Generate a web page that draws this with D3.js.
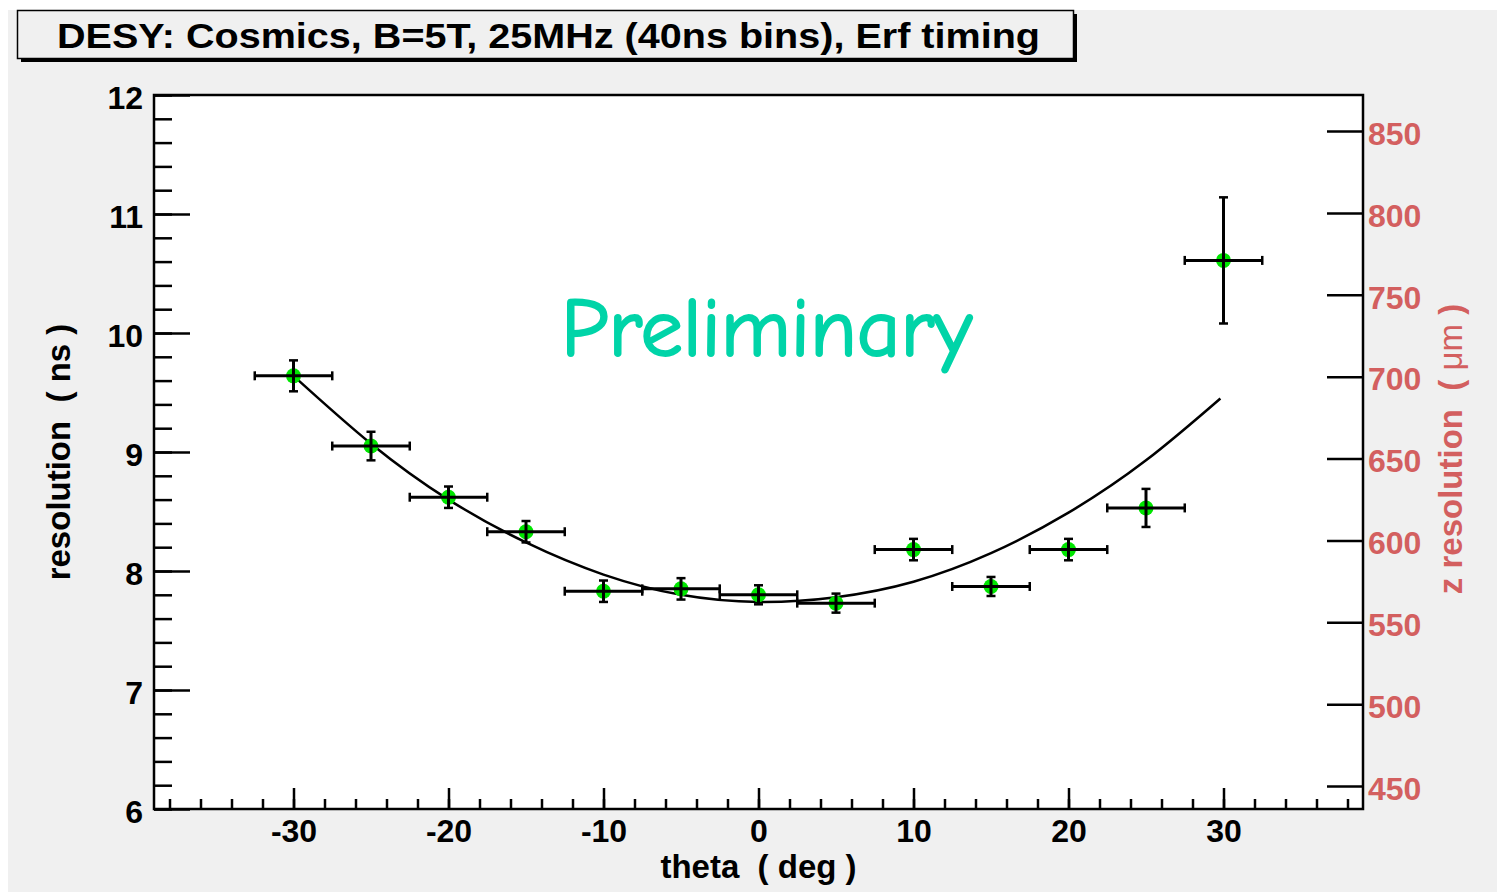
<!DOCTYPE html>
<html>
<head>
<meta charset="utf-8">
<script src="https://cdn.jsdelivr.net/npm/d3@7"></script>
<style>
  body { margin: 0; background: #ffffff; }
  svg { display: block; font-family: "Liberation Sans", Arial, Helvetica, sans-serif; }
  .axis path, .axis line { stroke: #000; }
</style>
</head>
<body>
<svg id="chart"></svg>
<script>
// measured points (theta in deg, resolution in ns)
const thetaVals = [-30, -25, -20, -15, -10, -5, 0, 5, 10, 15, 20, 25, 30];
const resVals = [9.64, 9.05, 8.62, 8.33, 7.83, 7.85, 7.80, 7.73, 8.18, 7.87, 8.18, 8.53, 10.61];
const resErrs = [0.13, 0.12, 0.09, 0.09, 0.09, 0.09, 0.08, 0.08, 0.09, 0.08, 0.09, 0.16, 0.53];
const thetaErrs = [2.5, 2.5, 2.5, 2.5, 2.5, 2.5, 2.5, 2.5, 2.5, 2.5, 2.5, 2.5, 2.5];

// fit curve
const fitTheta = [-30, -25, -20, -15, -10, -5, 0, 5, 10, 15, 20, 25, 29.8];
const fitRes = [9.64, 9.07, 8.60, 8.24, 7.97, 7.80, 7.74, 7.78, 7.91, 8.15, 8.49, 8.93, 9.45];

// tick labels
const xTicks = [-30, -20, -10, 0, 10, 20, 30];
const yTicks = [6, 7, 8, 9, 10, 11, 12];
const zTicks = [450, 500, 550, 600, 650, 700, 750, 800, 850];

const titleText = "DESY: Cosmics, B=5T, 25MHz (40ns bins), Erf timing";

const W = 1497, H = 892;
const frame = {left: 154, right: 1363, top: 95, bottom: 809};
const zRed = "#d35f5f";
const labelSize = "32px";

const svg = d3.select("#chart")
    .attr("width", W)
    .attr("height", H);

// canvas background
svg.append("rect")
    .attr("x", 8).attr("y", 10)
    .attr("width", W - 8).attr("height", H - 10)
    .attr("fill", "#f0f0f0");

// plot pad
svg.append("rect")
    .attr("x", frame.left).attr("y", frame.top)
    .attr("width", frame.right - frame.left)
    .attr("height", frame.bottom - frame.top)
    .attr("fill", "#ffffff");

const xScale = d3.scaleLinear().domain([-39, 39]).range([frame.left, frame.right]);
const yScale = d3.scaleLinear().domain([6, 12]).range([frame.bottom, frame.top]);
const zScale = d3.scaleLinear().domain([436, 872]).range([frame.bottom, frame.top]);

// plain hyphen minus like the original
const plainFmt = d => String(d);

// minor ticks first, then majors
svg.append("g")
    .attr("class", "axis")
    .attr("transform", `translate(${frame.left},0)`)
    .call(d3.axisLeft(yScale).tickValues(d3.range(6, 12.01, 0.2)).tickSize(-18).tickFormat(""))
    .call(g => g.select(".domain").remove())
    .selectAll("line").attr("stroke-width", 2.5);

svg.append("g")
    .attr("class", "axis")
    .attr("transform", `translate(0,${frame.bottom})`)
    .call(d3.axisBottom(xScale).tickValues(d3.range(-38, 39, 2)).tickSize(-10).tickFormat(""))
    .call(g => g.select(".domain").remove())
    .selectAll("line").attr("stroke-width", 2.5);

const yAxisG = svg.append("g")
    .attr("class", "axis")
    .attr("transform", `translate(${frame.left},0)`)
    .call(d3.axisLeft(yScale).tickValues(yTicks).tickSize(-36).tickPadding(11).tickSizeOuter(0).tickFormat(plainFmt));
yAxisG.select(".domain").remove();
yAxisG.selectAll("line").attr("stroke-width", 2.5);
yAxisG.selectAll("text")
    .attr("fill", "#000")
    .attr("y", 3)
    .style("font-size", labelSize)
    .style("font-weight", "bold");

const xAxisG = svg.append("g")
    .attr("class", "axis")
    .attr("transform", `translate(0,${frame.bottom})`)
    .call(d3.axisBottom(xScale).tickValues(xTicks).tickSize(-21).tickPadding(10).tickSizeOuter(0).tickFormat(plainFmt));
xAxisG.select(".domain").remove();
xAxisG.selectAll("line").attr("stroke-width", 2.5);
xAxisG.selectAll("text")
    .attr("fill", "#000")
    .style("font-size", labelSize)
    .style("font-weight", "bold");

const zAxisG = svg.append("g")
    .attr("class", "axis")
    .attr("transform", `translate(${frame.right},0)`)
    .call(d3.axisRight(zScale).tickValues(zTicks).tickSize(-36).tickPadding(5).tickSizeOuter(0).tickFormat(plainFmt));
zAxisG.select(".domain").remove();
zAxisG.selectAll("line").attr("stroke-width", 2.5);
zAxisG.selectAll("text")
    .attr("fill", zRed)
    .attr("y", 3)
    .style("font-size", labelSize)
    .style("font-weight", "bold");

// frame
svg.append("rect")
    .attr("x", frame.left).attr("y", frame.top)
    .attr("width", frame.right - frame.left)
    .attr("height", frame.bottom - frame.top)
    .attr("fill", "none")
    .attr("stroke", "#000")
    .attr("stroke-width", 2.5);

// axis titles
svg.append("text")
    .attr("x", (frame.left + frame.right) / 2)
    .attr("y", 878)
    .attr("text-anchor", "middle")
    .style("font-size", "33px")
    .style("font-weight", "bold")
    .attr("xml:space", "preserve")
    .text("theta  ( deg )");

svg.append("text")
    .attr("transform", `translate(70,${(frame.top + frame.bottom) / 2}) rotate(-90)`)
    .attr("text-anchor", "middle")
    .style("font-size", "33px")
    .style("font-weight", "bold")
    .attr("xml:space", "preserve")
    .text("resolution  ( ns )");

const zTitle = svg.append("text")
    .attr("transform", `translate(1462,${(frame.top + frame.bottom) / 2 - 3}) rotate(-90)`)
    .attr("text-anchor", "middle")
    .attr("fill", zRed)
    .style("font-size", "33px")
    .style("font-weight", "bold")
    .attr("xml:space", "preserve");
zTitle.append("tspan").text("z resolution  ( ");
zTitle.append("tspan").style("font-weight", "normal").text("μm");
zTitle.append("tspan").text(" )");

// Preliminary stamp
svg.append("text")
    .attr("x", 561)
    .attr("y", 356)
    .attr("fill", "#00d4a8")
    .attr("stroke", "#00d4a8")
    .attr("stroke-width", 2)
    .attr("stroke-linejoin", "round")
    .attr("textLength", 411)
    .attr("lengthAdjust", "spacingAndGlyphs")
    .style("font-family", "'Comic Sans MS', 'Comic Neue', cursive")
    .style("font-size", "82px")
    .text("Preliminary");

// fit curve
const fitLine = d3.line()
    .x((d, i) => xScale(fitTheta[i]))
    .y(d => yScale(d))
    .curve(d3.curveNatural);

svg.append("path")
    .attr("d", fitLine(fitRes))
    .attr("fill", "none")
    .attr("stroke", "#000")
    .attr("stroke-width", 2.5);

// points with error bars
const pts = thetaVals.map((t, i) => ({t: t, r: resVals[i], er: resErrs[i], et: thetaErrs[i]}));

const markers = svg.append("g").selectAll("g")
    .data(pts)
    .join("g");

markers.append("circle")
    .attr("cx", d => xScale(d.t))
    .attr("cy", d => yScale(d.r))
    .attr("r", 7.5)
    .attr("fill", "#00e600");

markers.append("line")
    .attr("x1", d => xScale(d.t - d.et)).attr("x2", d => xScale(d.t + d.et))
    .attr("y1", d => yScale(d.r)).attr("y2", d => yScale(d.r))
    .attr("stroke", "#000").attr("stroke-width", 3);

markers.append("line")
    .attr("x1", d => xScale(d.t)).attr("x2", d => xScale(d.t))
    .attr("y1", d => yScale(d.r - d.er)).attr("y2", d => yScale(d.r + d.er))
    .attr("stroke", "#000").attr("stroke-width", 3);

// end caps
markers.each(function(d) {
    const g = d3.select(this);
    [d.t - d.et, d.t + d.et].forEach(v => {
        g.append("line")
            .attr("x1", xScale(v)).attr("x2", xScale(v))
            .attr("y1", yScale(d.r) - 4.5).attr("y2", yScale(d.r) + 4.5)
            .attr("stroke", "#000").attr("stroke-width", 2.5);
    });
    [d.r - d.er, d.r + d.er].forEach(v => {
        g.append("line")
            .attr("x1", xScale(d.t) - 4.5).attr("x2", xScale(d.t) + 4.5)
            .attr("y1", yScale(v)).attr("y2", yScale(v))
            .attr("stroke", "#000").attr("stroke-width", 2.5);
    });
});

// title box with shadow
svg.append("rect")
    .attr("x", 21).attr("y", 14)
    .attr("width", 1056).attr("height", 48)
    .attr("fill", "#000");
svg.append("rect")
    .attr("x", 17.5).attr("y", 10.5)
    .attr("width", 1056).attr("height", 48)
    .attr("fill", "#f0f0f0")
    .attr("stroke", "#000")
    .attr("stroke-width", 1.5);
svg.append("text")
    .attr("x", 57)
    .attr("y", 48)
    .attr("textLength", 983)
    .attr("lengthAdjust", "spacingAndGlyphs")
    .style("font-size", "35px")
    .style("font-weight", "bold")
    .text(titleText);
</script>
</body>
</html>
